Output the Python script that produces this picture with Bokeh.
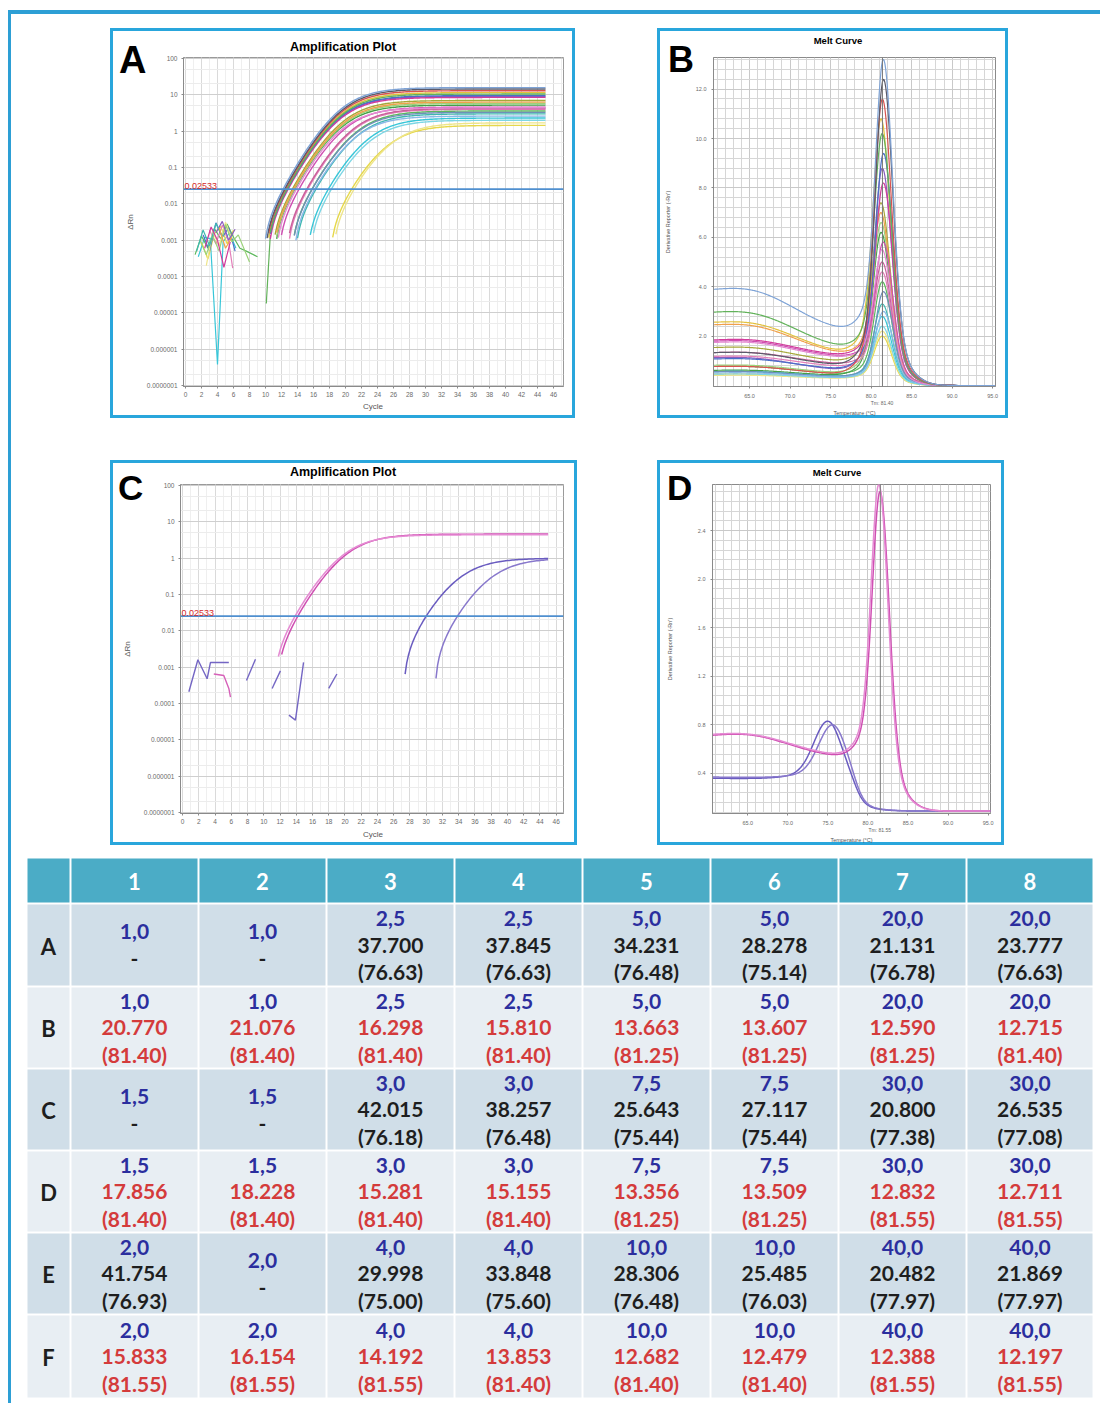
import numpy as np
from bokeh.plotting import figure
from bokeh.models import (Range1d, FixedTicker, Label, Span, ColumnDataSource,
                          CustomJSTickFormatter, NumeralTickFormatter, Div, Row, Column)
from bokeh.core.properties import value
from bokeh.embed import file_html
from bokeh.resources import INLINE

# ---------------------------------------------------------------- data
THRESHOLD = 0.02533
TM_LINE_B = 81.40
TM_LINE_D = 81.55

plate_cols = ["1", "2", "3", "4", "5", "6", "7", "8"]
plate_rows = ["A", "B", "C", "D", "E", "F"]

conc_AB = [1.0, 1.0, 2.5, 2.5, 5.0, 5.0, 20.0, 20.0]
conc_CD = [1.5, 1.5, 3.0, 3.0, 7.5, 7.5, 30.0, 30.0]
conc_EF = [2.0, 2.0, 4.0, 4.0, 10.0, 10.0, 40.0, 40.0]

ct_A = [None, None, 37.700, 37.845, 34.231, 28.278, 21.131, 23.777]
tm_A = [None, None, 76.63, 76.63, 76.48, 75.14, 76.78, 76.63]
ct_B = [20.770, 21.076, 16.298, 15.810, 13.663, 13.607, 12.590, 12.715]
tm_B = [81.40, 81.40, 81.40, 81.40, 81.25, 81.25, 81.25, 81.40]
ct_C = [None, None, 42.015, 38.257, 25.643, 27.117, 20.800, 26.535]
tm_C = [None, None, 76.18, 76.48, 75.44, 75.44, 77.38, 77.08]
ct_D = [17.856, 18.228, 15.281, 15.155, 13.356, 13.509, 12.832, 12.711]
tm_D = [81.40, 81.40, 81.40, 81.40, 81.25, 81.25, 81.55, 81.55]
ct_E = [41.754, None, 29.998, 33.848, 28.306, 25.485, 20.482, 21.869]
tm_E = [76.93, None, 75.00, 75.60, 76.48, 76.03, 77.97, 77.97]
ct_F = [15.833, 16.154, 14.192, 13.853, 12.682, 12.479, 12.388, 12.197]
tm_F = [81.55, 81.55, 81.55, 81.40, 81.40, 81.40, 81.55, 81.55]

# well colours and curve levels for the wells of rows B, D and F
colors_B = ["#e6d84a", "#eee58a", "#3fb8b0", "#5cb85c", "#44a048", "#9bd27a", "#e3c23c", "#8a5cc0"]
colors_D = ["#38c6d8", "#7dd6e4", "#e37fb9", "#c9609a", "#a6a83a", "#f0a04b", "#d23c9c", "#4a6fc8"]
colors_F = ["#6f8fb8", "#8ab8e8", "#cf4fb2", "#e58bd3", "#62b25a", "#d9534f", "#5a5a6a", "#7ea3d6"]
plateau_B = [1.45, 1.7, 3.0, 3.6, 5.2, 5.8, 11.5, 9.0]
plateau_D = [2.3, 2.0, 4.0, 4.2, 7.0, 6.3, 8.5, 9.5]
plateau_F = [3.3, 2.6, 4.6, 4.4, 10.5, 13.0, 14.5, 15.8]
peak_B = [2.0, 2.2, 3.3, 4.2, 6.2, 6.6, 10.8, 8.8]
peak_D = [2.8, 2.4, 4.6, 5.0, 7.4, 7.0, 8.2, 9.4]
peak_F = [3.8, 3.0, 5.8, 5.5, 10.2, 11.6, 12.4, 13.2]
base60_B = [0.45, 0.40, 0.55, 0.75, 0.60, 0.80, 2.50, 1.10]
base60_D = [0.55, 0.45, 1.15, 1.30, 1.50, 2.40, 1.80, 1.05]
base60_F = [0.55, 0.50, 1.75, 1.70, 2.90, 0.75, 1.30, 3.80]
base78_B = [0.30, 0.28, 0.35, 0.45, 0.40, 0.50, 1.30, 0.60]
base78_D = [0.35, 0.30, 0.75, 0.85, 0.95, 1.25, 1.20, 0.65]
base78_F = [0.35, 0.32, 1.15, 1.10, 1.50, 0.45, 0.80, 2.20]

# wells E3/E4 (second product) shown with F3/F4 in panels C and D
colors_E34 = ["#6a5cc0", "#8878cc"]
plateau_E34 = [1.0, 1.0]
d_peak_E34 = [0.83, 0.80]
d_base60_E34 = [0.27, 0.28]
d_base78_E34 = [0.24, 0.25]
d_peak_F34 = [2.72, 2.78]
d_base60_F34 = [0.61, 0.62]
d_base78_F34 = [0.44, 0.45]
d_hump_F34 = [0.035, 0.03]

# sub-threshold noise traces (cycle, dRn)
noise_a = [
    ("#38c6d8", [1.6, 2.4, 3.1, 4.0, 4.7, 5.5, 6.3], [3.5e-4, 1.2e-3, 1.1e-3, 3.8e-7, 9e-4, 1.6e-3, 6e-4]),
    ("#e6d84a", [2.0, 2.8, 3.6, 4.4, 5.2, 6.0], [9e-4, 3e-4, 1.5e-3, 2.4e-3, 8e-4, 1.9e-3]),
    ("#5cb85c", [1.2, 2.0, 2.8, 3.6, 4.4, 5.2, 6.0, 6.8, 7.6, 9.0],
     [4e-4, 1.3e-3, 6e-4, 2.1e-3, 1.1e-3, 2.8e-3, 1.2e-3, 6e-4, 5e-4, 3.5e-4]),
    ("#e37fb9", [3.0, 3.8, 4.6, 5.4, 5.9], [1.9e-3, 8e-4, 2.6e-3, 9e-4, 1.7e-4]),
    ("#4a6fc8", [2.2, 3.0, 3.8, 4.6, 5.4, 6.2], [1.4e-3, 5e-4, 3.0e-3, 1.2e-3, 2.2e-3, 5e-4]),
    ("#eee58a", [2.6, 3.4, 4.2, 5.0, 5.8], [2e-4, 1.7e-3, 7e-4, 3.1e-3, 1.1e-3]),
    ("#9bd27a", [1.8, 2.6, 3.4, 4.2, 5.0, 5.8, 6.6, 8.0], [1.0e-3, 4e-4, 1.3e-3, 5e-4, 2.7e-3, 9e-4, 1.4e-3, 2.5e-4]),
    ("#8a5cc0", [3.8, 4.6, 5.4, 6.2], [1.6e-3, 3.3e-3, 1.0e-3, 2.0e-3]),
    ("#3fb8b0", [1.4, 2.2, 3.0, 3.8, 4.6], [5e-4, 1.9e-3, 7e-4, 2.9e-3, 1.3e-3]),
    ("#f0a04b", [4.2, 5.0, 5.8], [2.2e-3, 6e-4, 1.2e-3]),
    ("#d23c9c", [2.4, 3.2, 4.0, 4.8, 5.6], [6e-4, 2.3e-3, 1.0e-3, 1.8e-4, 9e-4]),
    ("#62b25a", [10.1, 10.6], [1.8e-5, 1.4e-3]),
]
noise_c = [
    ("#7466c4", [0.78, 1.89, 3.03], [2.1e-4, 1.6e-3, 4.8e-4]),
    ("#7466c4", [3.03, 3.44, 5.7], [4.8e-4, 1.35e-3, 1.35e-3]),
    ("#d660b8", [3.85, 5.08, 5.7, 5.9], [6.5e-4, 5.9e-4, 2.6e-4, 1.5e-4]),
    ("#7466c4", [7.87, 8.98], [4.3e-4, 1.66e-3]),
    ("#7466c4", [11.03, 12.05], [2.6e-4, 7.9e-4]),
    ("#7466c4", [13.1, 13.9, 14.9], [4.8e-5, 3.5e-5, 1.35e-3]),
    ("#7466c4", [18.0, 19.0], [2.6e-4, 6.5e-4]),
]

# ---------------------------------------------------------------- curve shapes
def amp_trace(ct, plateau, floor=9e-4, s=2.5, g=2.3, b=0.003):
    """Baseline-subtracted amplification curve crossing THRESHOLD at ct."""
    cyc = np.arange(1.0, 45.0001, 0.2)
    k = (plateau / (THRESHOLD + b)) ** (1.0 / g) - 1.0
    mid = ct + s * np.log(k)
    drn = plateau / (1.0 + np.exp(-(cyc - mid) / s)) ** g - b
    start = int(np.argmax(drn > floor))
    return cyc[start:], drn[start:]


def _base(t, b60, b78, drop, hump):
    w = lambda x: 1.0 / (1.0 + np.exp((x - 71.5) / 3.0))
    lvl = b78 + (b60 - b78) * (w(t) - w(78.0)) / (w(60.0) - w(78.0))
    lvl = lvl + hump * np.exp(-0.5 * ((t - 65.0) / 3.5) ** 2)
    return lvl / (1.0 + np.exp((t - drop) / 0.6))


def melt_trace(tm, peak, b60, b78, sl=0.95, sr=1.1, drop=None, floor=0.0, hump=None):
    t = np.arange(60.6, 95.31, 0.1)
    drop = tm + 1.0 if drop is None else drop
    hump = 0.06 * b60 if hump is None else hump
    base = _base(t, b60, b78, drop, hump)
    amp = peak - floor - _base(np.array([tm]), b60, b78, drop, hump)[0]
    sig = np.where(t < tm, sl, sr)
    shape = 0.85 * np.exp(-0.5 * ((t - tm) / sig) ** 2) + 0.15 * np.exp(-0.5 * ((t - tm) / (2.2 * sig)) ** 2)
    return t, floor + base + amp * shape

# ---------------------------------------------------------------- panel helpers
FONT = "Liberation Sans"
PANEL_STYLE = {"background-color": "white",
               "box-shadow": "inset 0 0 0 3px #29a6dc",
               "outline": "3px solid #29a6dc", "outline-offset": "-3px"}

log_fmt = CustomJSTickFormatter(code="""
    const e = Math.round(Math.log10(tick));
    return e >= 0 ? String(Math.round(tick)) : tick.toFixed(-e);
""")


def style_axes(p, tick_px, lab_px, tick_std, lab_std_x, lab_std_y):
    for ax in p.axis:
        ax.axis_line_color = "#8a8a8a"
        ax.major_tick_line_color = "#8a8a8a"
        ax.minor_tick_line_color = None
        ax.major_tick_out = 2
        ax.major_tick_in = 0
        ax.major_label_text_font = FONT
        ax.major_label_text_font_size = tick_px
        ax.major_label_text_color = "#6a6a6a"
        ax.major_label_standoff = tick_std
        ax.axis_label_text_font = FONT
        ax.axis_label_text_font_size = lab_px
        ax.axis_label_text_font_style = "normal"
        ax.axis_label_text_color = "#555555"
    p.xaxis.axis_label_standoff = lab_std_x
    p.yaxis.axis_label_standoff = lab_std_y


def base_fig(width, height, borders, **kw):
    lft, rgt, top, bot = borders
    p = figure(width=width, height=height, toolbar_location=None, output_backend="svg",
               min_border_left=lft, min_border_right=rgt, min_border_top=top, min_border_bottom=bot, **kw)
    p.title.visible = False
    p.styles = PANEL_STYLE
    p.border_fill_alpha = 0
    p.background_fill_color = "white"
    return p


def amp_axes(width, height, borders, x_end):
    p = base_fig(width, height, borders, y_axis_type="log",
                 x_range=Range1d(-0.25, x_end), y_range=Range1d(9.4e-8, 106.5))
    p.outline_line_color = "#9a9a9a"
    p.xaxis.ticker = FixedTicker(ticks=list(range(0, 47, 2)), minor_ticks=list(range(0, 48)))
    p.yaxis.ticker = FixedTicker(ticks=[10.0 ** e for e in range(-7, 3)],
                                 minor_ticks=[k * 10.0 ** e for e in range(-7, 2) for k in (2, 5)])
    p.yaxis.formatter = log_fmt
    p.xgrid.grid_line_color = "#dadada"
    p.xgrid.minor_grid_line_color = "#efefef"
    p.ygrid.grid_line_color = "#cfcfcf"
    p.ygrid.minor_grid_line_color = "#ececec"
    p.yaxis.axis_label = "ΔRn"
    style_axes(p, "6.5px", "8px", 2, 0, 9)
    p.xaxis.major_label_standoff = 1
    p.add_layout(Span(location=THRESHOLD, dimension="width", line_color="#4f8fcf", line_width=1.6))
    p.add_layout(Label(x=1, y=THRESHOLD, x_units="screen", text="0.02533", text_font=FONT,
                       text_font_size="9px", text_baseline="bottom", text_color="#d42a2a"))
    return p


def melt_axes(width, height, borders, x_rng, y_rng, yticks, ystep, tm_line):
    p = base_fig(width, height, borders, x_range=Range1d(*x_rng), y_range=Range1d(*y_rng))
    p.outline_line_color = "#8a8a8a"
    p.xaxis.ticker = FixedTicker(ticks=[65, 70, 75, 80, 85, 90, 95], minor_ticks=list(range(60, 97)))
    p.yaxis.ticker = FixedTicker(ticks=yticks,
                                 minor_ticks=list(np.round(np.arange(ystep, y_rng[1], ystep), 3)))
    p.xaxis.formatter = NumeralTickFormatter(format="0.0")
    p.yaxis.formatter = NumeralTickFormatter(format="0.0")
    for gr in (p.xgrid, p.ygrid):
        gr.grid_line_color = "#c9c9c9"
        gr.minor_grid_line_color = "#d6d6d6"
    p.xaxis.axis_label = "Temperature (°C)"
    p.yaxis.axis_label = "Derivative Reporter (-Rn')"
    style_axes(p, "5.5px", "5.5px", 3, 9, 22)
    p.add_layout(Span(location=tm_line, dimension="height", line_color="#7a7a7a", line_width=1))
    return p


def overlay(width, height, margin, items):
    """Transparent HTML layer laid over a panel for its letter, title and notes."""
    spans = []
    for text, x, y, size, weight, center, color in items:
        shift = "transform:translateX(-50%);" if center else ""
        spans.append(
            f'<span style="position:absolute;left:{x}px;top:{y}px;{shift}'
            f"font-family:'{FONT}';font-size:{size}px;line-height:{size}px;font-weight:{weight};"
            f'color:{color};white-space:nowrap;">{text}</span>')
    html = (f'<div style="position:relative;width:{width}px;height:{height}px;">'
            + "".join(spans) + "</div>")
    return Div(text=html, width=width, height=height, margin=margin)


def panel_items(letter, letter_size, letter_xy, title, title_size, title_xy):
    lx, lbase = letter_xy
    tx, tmid = title_xy
    return [(letter, lx, round(lbase - 0.8465 * letter_size, 1), letter_size, "bold", False, "black"),
            (title, tx, round(tmid - title_size / 2, 1), title_size, "bold", True, "black")]


def tm_note(tm_line, width, borders, x_rng, below):
    lft, rgt, _, _ = borders
    sx = lft + (tm_line - x_rng[0]) * (width - lft - rgt) / (x_rng[1] - x_rng[0])
    return ("Tm: %.2f" % tm_line, round(sx, 1), below - 2.5, 5, "normal", True, "#666666")


def cycle_note(x, y):
    return ("Cycle", x, y - 4, 8, "normal", True, "#555555")

# ---------------------------------------------------------------- panel A: amplification, rows B/D/F
A_W, A_H, A_BRD = 465, 390, (73, 12, 29, 28)
pA = amp_axes(A_W, A_H, A_BRD, 47.25)
for col, cx, vy in noise_a:
    pA.line(cx, vy, line_color=col, line_width=1.2)
for ct, plat, col in zip(ct_B + ct_D + ct_F, plateau_B + plateau_D + plateau_F, colors_B + colors_D + colors_F):
    cx, vy = amp_trace(ct, plat)
    pA.line(cx, vy, line_color=col, line_width=1.4)

# ---------------------------------------------------------------- panel B: melt curves, rows B/D/F
B_W, B_H, B_BRD, B_X = 351, 390, (56, 13, 25, 32), (60.55, 95.35)
pB = melt_axes(B_W, B_H, B_BRD, B_X, (-0.04, 13.28), [2, 4, 6, 8, 10, 12], 0.4, TM_LINE_B)
for tm, pk, b60, b78, col in zip(tm_B + tm_D + tm_F, peak_B + peak_D + peak_F,
                                 base60_B + base60_D + base60_F, base78_B + base78_D + base78_F,
                                 colors_B + colors_D + colors_F):
    tx, dy = melt_trace(tm, pk, b60, b78)
    pB.line(tx, dy, line_color=col, line_width=1.2)

# ---------------------------------------------------------------- panel C: wells E3, E4, F3, F4
C_W, C_H, C_BRD = 467, 385, (70, 14, 23, 29)
pC = amp_axes(C_W, C_H, C_BRD, 46.9)
for col, cx, vy in noise_c:
    pC.line(cx, vy, line_color=col, line_width=1.4)
for ct, plat, col in zip(ct_E[2:4], plateau_E34, colors_E34):
    cx, vy = amp_trace(ct, plat, floor=1.5e-4)
    pC.line(cx, vy, line_color=col, line_width=1.5)
for ct, plat, col in zip(ct_F[2:4], plateau_F[2:4], colors_F[2:4]):
    cx, vy = amp_trace(ct, plat, floor=1.5e-3)
    pC.line(cx, vy, line_color=col, line_width=1.5)

# ---------------------------------------------------------------- panel D: melt curves of the same wells
D_W, D_H, D_BRD, D_X = 347, 385, (55, 14, 24, 32), (60.6, 95.3)
pD = melt_axes(D_W, D_H, D_BRD, D_X, (0.07, 2.78), [0.4, 0.8, 1.2, 1.6, 2.0, 2.4], 0.08, TM_LINE_D)
for tm, pk, b60, b78, col in zip(tm_E[2:4], d_peak_E34, d_base60_E34, d_base78_E34, colors_E34):
    tx, dy = melt_trace(tm, pk, b60, b78, sl=1.7, sr=1.6, drop=78.5, floor=0.09, hump=0.0)
    pD.line(tx, dy, line_color=col, line_width=1.5)
for tm, pk, b60, b78, hp, col in zip(tm_F[2:4], d_peak_F34, d_base60_F34, d_base78_F34, d_hump_F34,
                                     colors_F[2:4]):
    tx, dy = melt_trace(tm, pk, b60, b78, floor=0.09, hump=hp)
    pD.line(tx, dy, line_color=col, line_width=1.5)

# letters, titles, x-axis names and Tm notes (drawn over the panel borders)
ovA = overlay(A_W, A_H, (14, 0, 0, -A_W),
              panel_items("A", 38, (9, 45), "Amplification Plot", 12.5, (233, 19))
              + [cycle_note(263, 379)])
ovB = overlay(B_W, B_H, (14, 0, 0, -B_W),
              panel_items("B", 36, (11, 44), "Melt Curve", 9.5, (181, 13))
              + [tm_note(TM_LINE_B, B_W, B_BRD, B_X, B_H - B_BRD[3] + 17)])
ovC = overlay(C_W, C_H, (42, 0, 0, -C_W),
              panel_items("C", 35, (8, 40), "Amplification Plot", 12.5, (233, 12))
              + [cycle_note(263, 375)])
ovD = overlay(D_W, D_H, (42, 0, 0, -D_W),
              panel_items("D", 35, (10, 40), "Melt Curve", 9.5, (180, 13))
              + [tm_note(TM_LINE_D, D_W, D_BRD, D_X, D_H - D_BRD[3] + 17)])

# ---------------------------------------------------------------- plate table
TW, TH = 1067, 541
col_edges = [0, 44, 172, 300, 428, 556, 684, 812, 940, 1067]
row_edges = [0, 46, 129, 211, 293, 375, 457, 541]
HEAD_BG, DARK_BG, LIGHT_BG = "#4bacc6", "#d0dee8", "#e8eef3"
BLUE, BLACK, RED = "#2b2e9e", "#1e1e1e", "#d43b3b"

table_rows = [
    ("A", conc_AB, ct_A, tm_A, BLACK), ("B", conc_AB, ct_B, tm_B, RED),
    ("C", conc_CD, ct_C, tm_C, BLACK), ("D", conc_CD, ct_D, tm_D, RED),
    ("E", conc_EF, ct_E, tm_E, BLACK), ("F", conc_EF, ct_F, tm_F, RED),
]

pT = figure(width=TW, height=TH, x_range=Range1d(0, TW), y_range=Range1d(TH, 0),
            toolbar_location=None, output_backend="svg", x_axis_location=None, y_axis_location=None,
            min_border=0)
pT.title.visible = False
pT.grid.visible = False
pT.outline_line_color = None
pT.background_fill_color = "white"
pT.border_fill_color = "white"

cells = dict(l=[], r=[], t=[], b=[], c=[])
for ri in range(len(row_edges) - 1):
    fill = HEAD_BG if ri == 0 else (DARK_BG if ri % 2 == 1 else LIGHT_BG)
    for ci in range(len(col_edges) - 1):
        cells["l"].append(col_edges[ci] + 1)
        cells["r"].append(col_edges[ci + 1] - 1)
        cells["t"].append(row_edges[ri] + 1)
        cells["b"].append(row_edges[ri + 1] - 1)
        cells["c"].append(fill)
pT.quad(left="l", right="r", top="t", bottom="b", fill_color="c", line_color=None,
        source=ColumnDataSource(cells))

txt = dict(x=[], y=[], s=[], c=[], size=[])
def put(x, y, s, c, size="21px"):
    txt["x"].append(x); txt["y"].append(y); txt["s"].append(s); txt["c"].append(c); txt["size"].append(size)

col_mid = [(col_edges[i] + col_edges[i + 1]) / 2 for i in range(len(col_edges) - 1)]
row_mid = [(row_edges[i] + row_edges[i + 1]) / 2 for i in range(len(row_edges) - 1)]
for ci, name in enumerate(plate_cols):
    put(col_mid[ci + 1], row_mid[0] + 1, name, "white", "22px")
for ri, (name, conc, cts, tms, ct_color) in enumerate(table_rows):
    ym = row_mid[ri + 1]
    put(col_mid[0], ym + 1, name, BLACK, "22px")
    for ci in range(8):
        xm = col_mid[ci + 1]
        c_txt = ("%.1f" % conc[ci]).replace(".", ",")
        if cts[ci] is None:
            put(xm, ym - 13.5, c_txt, BLUE)
            put(xm, ym + 13.5, "-", BLACK)
        else:
            put(xm, ym - 26.5, c_txt, BLUE)
            put(xm, ym, "%.3f" % cts[ci], ct_color)
            put(xm, ym + 26.5, "(%.2f)" % tms[ci], ct_color)
pT.text(x="x", y="y", text="s", text_color="c", text_font_size="size", source=ColumnDataSource(txt),
        text_font=value("Lato"), text_font_style="bold", text_align="center", text_baseline="middle")

# ---------------------------------------------------------------- page layout
FRAME = "#2d9fd5"
top_bar = Div(text="", width=1092, height=4, margin=(10, 0, 0, 8), styles={"background-color": FRAME})
left_bar = Div(text="", width=3, height=1389, margin=(0, 0, 0, 8), styles={"background-color": FRAME})

pA.margin = (14, 0, 0, 99)
pB.margin = (14, 0, 0, 82)
pC.margin = (42, 0, 0, 99)
pD.margin = (42, 0, 0, 80)
pT.margin = (12, 0, 0, 15)

content = Column(children=[Row(children=[pA, ovA, pB, ovB]), Row(children=[pC, ovC, pD, ovD]), pT])
root = Column(children=[top_bar, Row(children=[left_bar, content])])

open("out.html", "w").write(file_html(root, INLINE))
